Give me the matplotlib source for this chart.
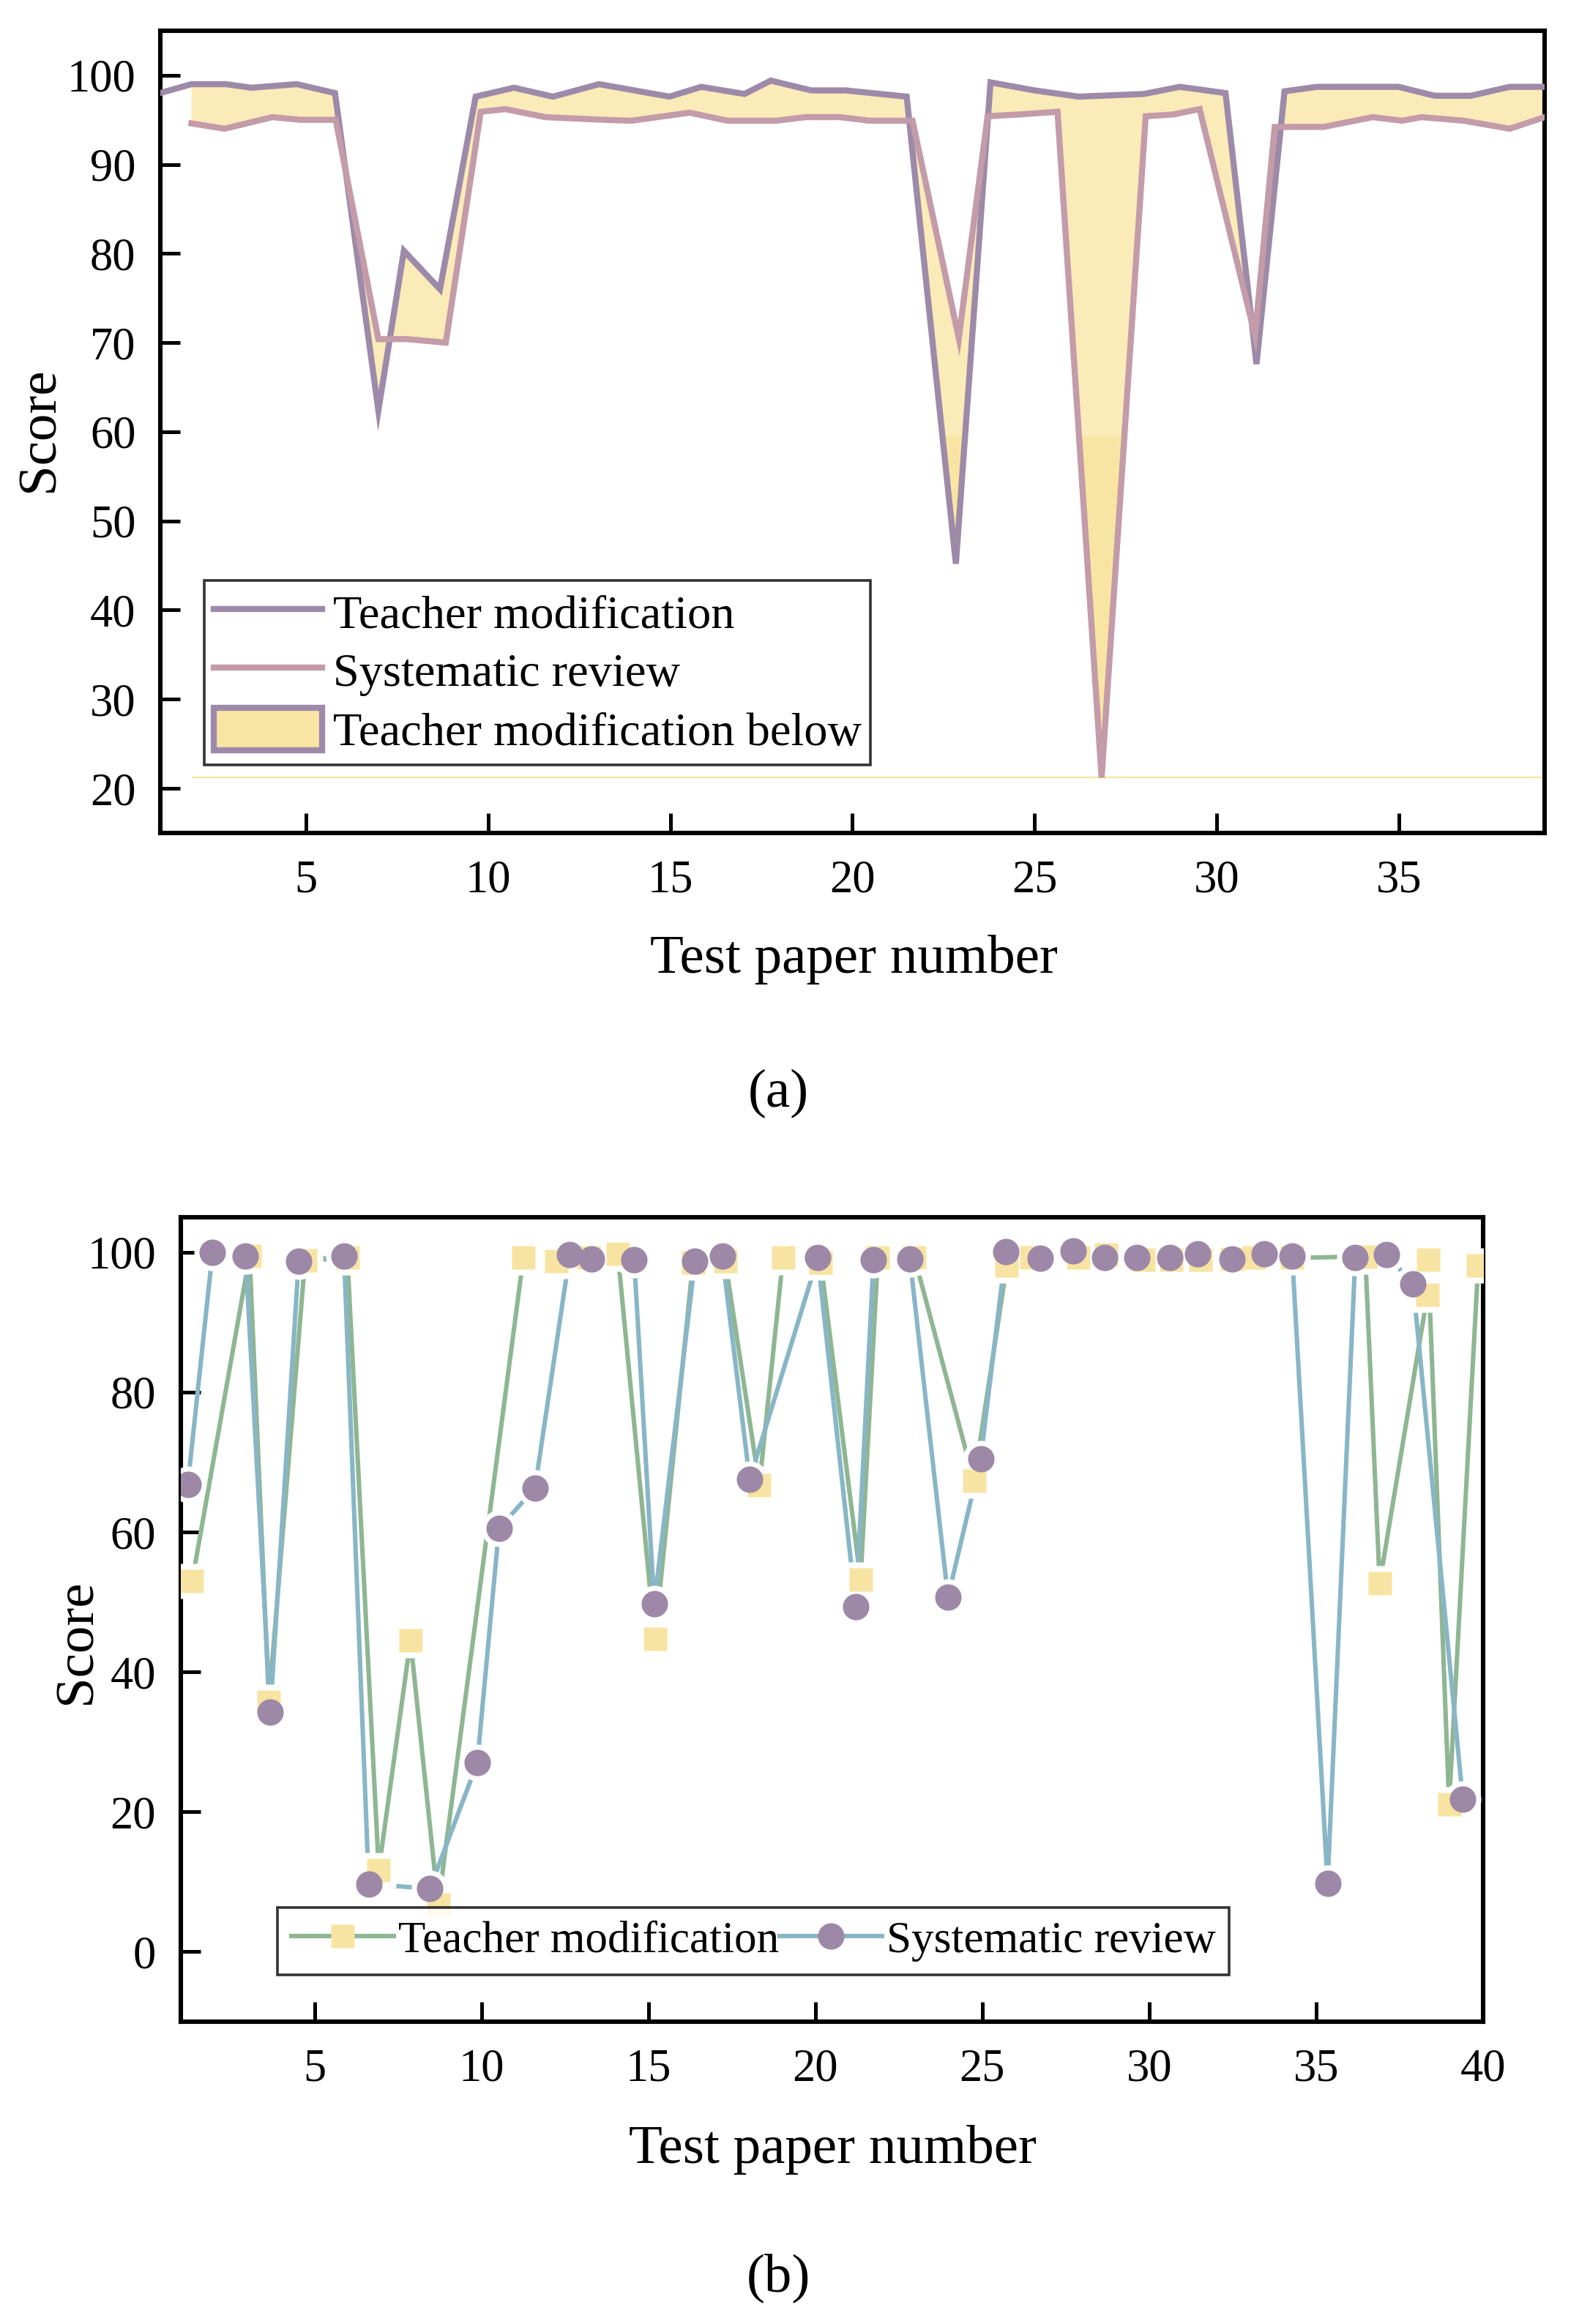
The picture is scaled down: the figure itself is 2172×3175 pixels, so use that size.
import numpy as np
import matplotlib
matplotlib.use("Agg")
import matplotlib.pyplot as plt
from matplotlib.lines import Line2D
from matplotlib.patches import Patch, Rectangle

plt.rcParams['font.family'] = ['Liberation Serif', 'DejaVu Serif']
plt.rcParams['mathtext.fontset'] = 'stix'

# ---------------- Panel (a) data ----------------
a_teacher_x = [1.0, 1.86, 2.81, 3.50, 4.75, 5.80, 6.99, 7.69, 8.68, 9.66, 10.71, 11.78,
               13.05, 14.98, 15.85, 17.04, 17.76, 18.87, 19.82, 21.49, 22.84, 23.79,
               25.0, 26.21, 28.0, 28.99, 30.24, 31.09, 31.86, 32.75, 34.99, 35.98,
               36.97, 38.04, 39.0]
a_teacher_y = [98.0, 99.0, 99.0, 98.6, 99.0, 98.0, 62.4, 80.3, 76.0, 97.6, 98.6, 97.6,
               99.0, 97.6, 98.7, 97.9, 99.4, 98.3, 98.3, 97.6, 45.2, 99.2,
               98.3, 97.6, 97.9, 98.7, 98.0, 67.6, 98.2, 98.7, 98.7, 97.7,
               97.7, 98.7, 98.7]
a_system_x = [1.86, 2.77, 4.08, 4.85, 5.82, 6.99, 7.77, 8.84, 9.80, 10.47, 11.58, 13.17,
              13.94, 15.53, 16.57, 17.91, 18.71, 19.66, 20.46, 21.65, 22.92, 23.71,
              24.58, 25.63, 26.84, 28.05, 28.81, 29.53, 31.05, 31.59, 32.93, 34.28,
              35.08, 35.62, 36.78, 38.04, 39.0]
a_system_y = [94.6, 94.0, 95.3, 95.0, 95.0, 70.4, 70.4, 70.0, 95.9, 96.2, 95.3, 95.0,
              94.9, 95.8, 94.9, 94.9, 95.3, 95.3, 94.9, 94.9, 70.5, 95.4,
              95.6, 95.9, 21.2, 95.4, 95.6, 96.2, 70.8, 94.2, 94.2, 95.3,
              94.9, 95.3, 94.9, 94.0, 95.3]

# ---------------- Panel (b) data ----------------
b_teacher_x = [1.33, 3.05, 3.63, 4.71, 5.98, 6.92, 7.87, 8.70, 11.25, 12.25, 13.20, 14.08,
               15.19, 16.33, 17.30, 18.32, 19.03, 20.16, 21.35, 21.87, 22.97, 24.75,
               25.73, 26.48, 27.87, 28.71, 29.82, 30.66, 31.53, 32.48, 33.13, 34.28,
               36.47, 36.90, 38.33, 38.35, 38.98, 39.85]
b_teacher_y = [53.0, 99.5, 35.7, 98.8, 99.2, 11.7, 44.5, 6.7, 99.2, 98.7, 99.2, 99.8,
               44.7, 98.5, 98.7, 66.7, 99.3, 98.5, 53.2, 99.3, 99.2, 67.3,
               98.1, 99.2, 99.3, 99.7, 98.9, 98.9, 98.9, 99.0, 99.2, 99.2,
               99.4, 52.7, 93.9, 98.9, 21.1, 98.1]
b_system_x = [1.20, 1.94, 2.93, 3.67, 4.52, 5.88, 6.62, 8.45, 9.87, 10.52, 11.60, 12.64,
              13.29, 14.57, 15.17, 16.39, 17.21, 18.03, 20.07, 21.21, 21.74, 22.83,
              23.97, 24.95, 25.70, 26.74, 27.72, 28.67, 29.62, 30.62, 31.44, 32.48,
              33.44, 34.28, 35.34, 36.17, 37.10, 37.90, 39.39]
b_system_y = [66.8, 100.0, 99.5, 34.3, 98.7, 99.5, 9.7, 9.0, 27.0, 60.5, 66.3, 99.7,
              99.0, 98.9, 49.7, 98.7, 99.5, 67.5, 99.2, 49.3, 98.9, 99.0,
              50.7, 70.5, 100.1, 99.1, 100.2, 99.3, 99.3, 99.3, 99.8, 99.0,
              99.8, 99.5, 9.8, 99.3, 99.7, 95.5, 21.8]

a_yticks = [20, 30, 40, 50, 60, 70, 80, 90, 100]
b_yticks = [0, 20, 40, 60, 80, 100]
a_xticks = [5, 10, 15, 20, 25, 30, 35]
b_xticks = [5, 10, 15, 20, 25, 30, 35, 40]

label_teacher = "Teacher modification"
label_system = "Systematic review"
label_below = "Teacher modification below"

# ---------------- colours ----------------
c_teacher_a = '#9d8aa9'
c_system_a = '#c39ba9'
c_fill = '#f9e5a3'
c_fill_pale = '#faebb8'
c_green = '#8fb692'
c_blue = '#88b6c6'
c_square = '#f8e4a2'
c_circle = '#9d89a7'

TICK_FS = 22.5
LABEL_FS = 27

fig = plt.figure(figsize=(10.86, 15.875), dpi=200)

def style_axes(ax):
    for s in ax.spines.values():
        s.set_linewidth(2.2)
    ax.tick_params(axis='both', which='both', direction='in', length=9.7, width=1.8,
                   labelsize=TICK_FS, top=False, right=False)
    ax.tick_params(axis='y', pad=12)
    ax.tick_params(axis='x', pad=13)

# ---------------- Panel (a) ----------------
axa = fig.add_axes([0.1007, 0.6416, 0.9715 - 0.1007, 0.9868 - 0.6416])
ta_x = np.array(a_teacher_x); ta_y = np.array(a_teacher_y)
sa_x = np.array(a_system_x); sa_y = np.array(a_system_y)
poly_x = np.concatenate([ta_x[1:], sa_x[::-1]])
poly_y = np.concatenate([ta_y[1:], sa_y[::-1]])
# fill between the two curves (rendered paler in the upper part, as in the original)
upper = axa.fill(poly_x, poly_y, color=c_fill_pale, lw=0, zorder=1)[0]
upper.set_clip_path(Rectangle((0, 59.5), 100, 100, transform=axa.transData))
lower = axa.fill(poly_x, poly_y, color=c_fill, lw=0, zorder=1)[0]
lower.set_clip_path(Rectangle((0, 0), 100, 59.5, transform=axa.transData))
axa.hlines(sa_y.min(), sa_x[0], sa_x[-1], color=c_fill, lw=0.8, zorder=1)
axa.plot(ta_x, ta_y, color=c_teacher_a, lw=3.0, zorder=3, solid_joinstyle='miter')
axa.plot(sa_x, sa_y, color=c_system_a, lw=3.0, zorder=4, solid_joinstyle='miter')
axa.set_xlim(1.0, 39.0)
axa.set_ylim(15, 105)
axa.set_xticks(a_xticks)
axa.set_yticks(a_yticks)
style_axes(axa)

h1 = Line2D([], [], color=c_teacher_a, lw=3.0)
h2 = Line2D([], [], color=c_system_a, lw=3.0)
h3 = (Patch(facecolor=c_fill, edgecolor='none'),
      Patch(facecolor='none', edgecolor=c_teacher_a, lw=3.0))
leg_a = axa.legend([h1, h2, h3], [label_teacher, label_system, label_below],
                   loc='lower left', bbox_to_anchor=(0.032, 0.085), borderaxespad=0,
                   fontsize=23.2, frameon=True, fancybox=False, edgecolor='black',
                   handlelength=2.3, handletextpad=0.22, labelspacing=0.24,
                   borderpad=0.2, handleheight=1.0)
leg_a.get_frame().set_linewidth(1.3)

fig.text(0.537, 1 - 1311 / 3175, "Test paper number", fontsize=LABEL_FS,
         ha='center', va='center')
fig.text(0.0253, 1 - 587 / 3175, "Score", fontsize=LABEL_FS, rotation=90,
         ha='center', va='center')
fig.text(0.4894, 1 - 1494 / 3175, "(a)", fontsize=LABEL_FS, ha='center', va='center')

# ---------------- Panel (b) ----------------
axb = fig.add_axes([0.1135, 0.1301, 0.9328 - 0.1135, 0.4762 - 0.1301])
tb_x = np.array(b_teacher_x); tb_y = np.array(b_teacher_y)
sb_x = np.array(b_system_x); sb_y = np.array(b_system_y)
axb.plot(tb_x, tb_y, color=c_green, lw=2.2, zorder=2)
axb.plot(sb_x, sb_y, color=c_blue, lw=2.2, zorder=2.1)
# white halos to create the gap between line and symbol
axb.plot(tb_x, tb_y, ls='none', marker='s', ms=17, mfc='white', mec='none', zorder=3)
axb.plot(sb_x, sb_y, ls='none', marker='o', ms=18, mfc='white', mec='none', zorder=3)
axb.plot(tb_x, tb_y, ls='none', marker='s', ms=11.5, mfc=c_square, mec='none', zorder=4)
axb.plot(sb_x, sb_y, ls='none', marker='o', ms=13, mfc=c_circle, mec='none', zorder=5)
axb.set_xlim(0.98, 40.0)
axb.set_ylim(-10, 105)
axb.set_xticks(b_xticks)
axb.set_yticks(b_yticks)
style_axes(axb)

hb1 = Line2D([], [], color=c_green, lw=2.2, marker='s', ms=11.5, mfc=c_square, mec='none')
hb2 = Line2D([], [], color=c_blue, lw=2.2, marker='o', ms=13, mfc=c_circle, mec='none')
leg_b = axb.legend([hb1, hb2], [label_teacher, label_system], loc='lower left',
                   bbox_to_anchor=(0.0747, 0.058), borderaxespad=0, ncol=2,
                   fontsize=22, frameon=True, fancybox=False, edgecolor='black',
                   handlelength=2.3, handletextpad=0.1, columnspacing=0.0,
                   borderpad=0.3)
leg_b.get_frame().set_linewidth(1.3)

fig.text(0.5235, 1 - 2937 / 3175, "Test paper number", fontsize=LABEL_FS,
         ha='center', va='center')
fig.text(0.0485, 1 - 2243 / 3175, "Score", fontsize=LABEL_FS, rotation=90,
         ha='center', va='center')
fig.text(0.4894, 1 - 3112 / 3175, "(b)", fontsize=LABEL_FS, ha='center', va='center')

fig.savefig("out.png", dpi=200)
